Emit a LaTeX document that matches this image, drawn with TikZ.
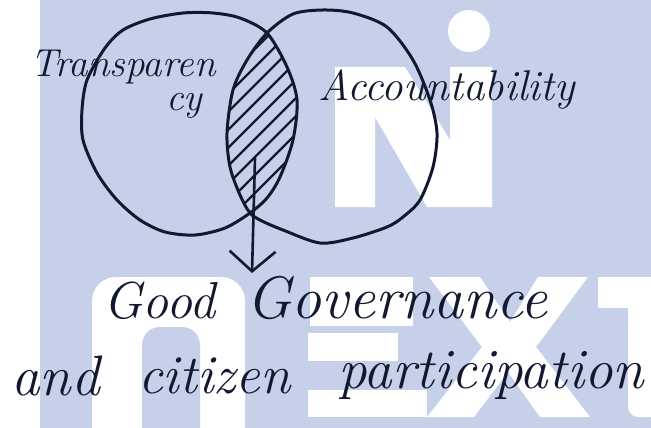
\documentclass[tikz,border=0pt]{standalone}
\usepackage{fontspec}
\usetikzlibrary{arrows.meta}
\definecolor{bgblue}{RGB}{198,208,233}
\definecolor{ink}{RGB}{18,24,48}
\tikzset{
  ring/.style={draw=ink, line width=3pt},
  hatch/.style={draw=ink, line width=2.2pt, line cap=round},
  hand/.style={text=ink, inner sep=0pt, anchor=base west, font=\fontsize{#1}{#1}\selectfont\itshape},
  twoline/.style={text=ink, inner sep=0pt, anchor=north west, align=left, font=\fontsize{39}{34}\selectfont\itshape},
  arr/.style={draw=ink, line width=2.6pt, -{Straight Barb[length=20pt,width=46pt]}},
  wm/.style={fill=white, draw=none}
}
\newcommand\LeftRing{plot[smooth cycle] coordinates {(183,13) (213,13) (240,18) (267,33) (287,67) (297,100) (293,140) (280,177) (267,198) (250,213) (225,228) (195,235) (165,232) (140,220) (117,200) (97,173) (83,140) (82,110) (87,80) (105,48) (123,30) (150,19)}}
\newcommand\RightRing{plot[smooth cycle] coordinates {(293,14) (323,10) (353,13) (387,27) (413,60) (430,100) (437,133) (433,167) (420,200) (403,217) (387,227) (353,238) (320,243) (283,230) (262,221) (250,213) (240,195) (230,167) (227,133) (233,90) (247,60) (267,33)}}
\begin{document}
\begin{tikzpicture}[x=1pt,y=-1pt]
\useasboundingbox (0,0) rectangle (651,428);
\clip (0,0) rectangle (651,428);
% background and watermark
\fill[bgblue] (0,0) rectangle (651,428);
\fill[wm] (0,0) rectangle (40,428);
\fill[wm] (335,67) -- (405,67) -- (450,140) -- (450,67) -- (492,67) -- (492,207) -- (427,207) -- (375,117) -- (375,207) -- (335,207) -- cycle;
\fill[wm] (469,31) circle[radius=21pt];
\fill[wm, rounded corners=24pt] (92,470) -- (92,277) -- (245,277) -- (245,470) -- cycle;
\fill[bgblue, rounded corners=18pt] (142,470) -- (142,327) -- (200,327) -- (200,470) -- cycle;
\fill[wm] (310,277) rectangle (413,326);
\fill[wm] (308,333) rectangle (398,361);
\fill[wm] (308,390) rectangle (427,417);
\fill[wm] (429,277) -- (480,277) -- (510,322) -- (538,277) -- (588,277) -- (536,347) -- (590,417) -- (540,417) -- (508,372) -- (474,417) -- (427,417) -- (482,347) -- cycle;
\fill[wm] (598,277) rectangle (651,308);
\fill[wm, rounded corners=10pt] (628,298) -- (660,298) -- (660,417) -- (628,417) -- cycle;
% hatching of the overlap
\begin{scope}
  \clip \LeftRing;
  \clip \RightRing;
  \foreach \c in {304,322,...,470}
    \draw[hatch] ({\c-260},260) -- ({\c+10},-10);
\end{scope}
% the two sets
\draw[ring] \LeftRing;
\draw[ring] \RightRing;
% labels
\node[twoline] (transp) at (30,49.5) {Transparen\\\hspace*{136pt}cy};
\node[hand=43] (acc) at (318,100) {Accountability};
\node[hand=52] (good) at (103,318) {Good};
\node[hand=60] (gov) at (246,318) {Governance};
\node[hand=57] (and) at (11,395) {and};
\node[hand=55] (citizen) at (138,393) {citizen};
\node[hand=57] (partic) at (338,388) {participation};
% arrow from the overlap to the result
\coordinate (src) at (255,158);
\coordinate (tip) at (252,273);
\draw[arr] (src) -- (tip);
\end{tikzpicture}
\end{document}
